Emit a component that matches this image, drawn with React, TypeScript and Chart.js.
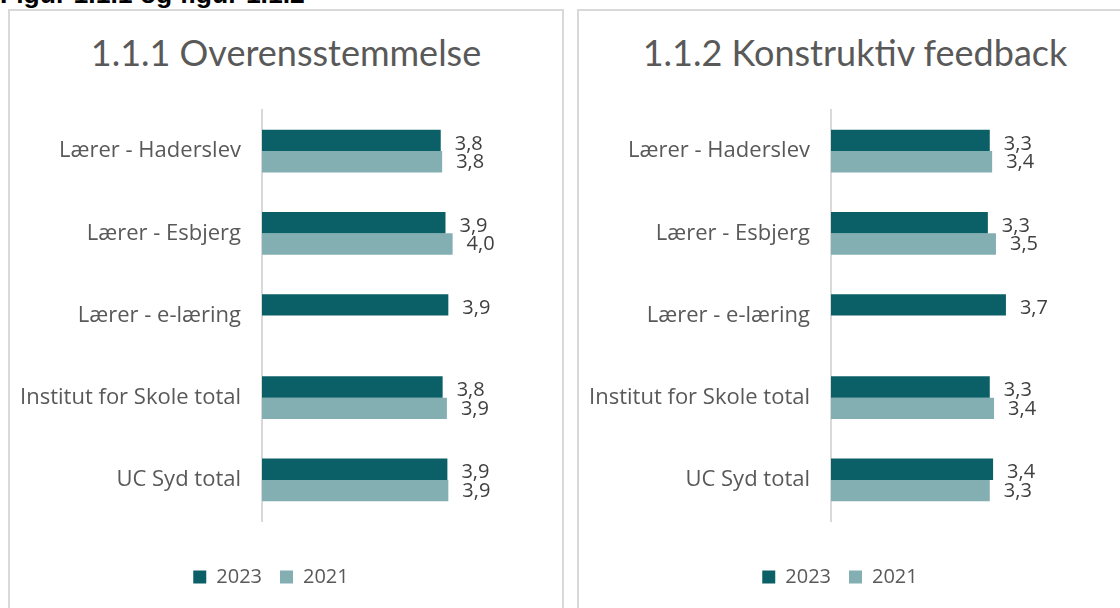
import React, { useEffect, useRef } from "react";
import { Chart, registerables } from "chart.js";
Chart.register(...registerables);

const headerText = "Figur 1.1.1 og figur 1.1.2";
const categories = [
  "Lærer - Haderslev",
  "Lærer - Esbjerg",
  "Lærer - e-læring",
  "Institut for Skole total",
  "UC Syd total",
];
const seriesNames = ["2023", "2021"];
const title1 = "1.1.1 Overensstemmelse";
const title2 = "1.1.2 Konstruktiv feedback";
const overens2023 = [3.76, 3.86, 3.92, 3.8, 3.9];
const overens2021 = [3.79, 4.01, null, 3.89, 3.92];
const feedback2023 = [3.34, 3.3, 3.68, 3.34, 3.41];
const feedback2021 = [3.39, 3.47, null, 3.43, 3.34];

const DARK = "#0B5F66";
const LIGHT = "#84AFB2";
const FONT = "'Open Sans'";
const TITLE_FONT = "Lato";

const labelOffsets = [3.5, 0.5];

const valueLabels = {
  id: "valueLabels",
  afterDatasetsDraw(chart: any) {
    const ctx = chart.ctx;
    ctx.save();
    ctx.font = `20px ${FONT}`;
    ctx.fillStyle = "#404040";
    ctx.textAlign = "left";
    ctx.textBaseline = "middle";
    chart.data.datasets.forEach((ds: any, i: number) => {
      const meta = chart.getDatasetMeta(i);
      meta.data.forEach((el: any, j: number) => {
        const v = ds.data[j];
        if (v == null) return;
        ctx.fillText(
          v.toFixed(1).replace(".", ","),
          el.x + 14,
          el.y + labelOffsets[i]
        );
      });
    });
    ctx.restore();
  },
};

function Panel({
  left,
  title,
  d2023,
  d2021,
}: {
  left: number;
  title: string;
  d2023: (number | null)[];
  d2021: (number | null)[];
}) {
  const ref = useRef<HTMLCanvasElement>(null);
  useEffect(() => {
    if (!ref.current) return;
    const chart = new Chart(ref.current, {
      type: "bar",
      data: {
        labels: categories,
        datasets: [
          {
            label: seriesNames[0],
            data: d2023,
            backgroundColor: DARK,
            categoryPercentage: 0.52,
            barPercentage: 1,
          },
          {
            label: seriesNames[1],
            data: d2021,
            backgroundColor: LIGHT,
            categoryPercentage: 0.52,
            barPercentage: 1,
          },
        ],
      },
      options: {
        indexAxis: "y",
        responsive: false,
        animation: false,
        layout: { padding: { top: 99, bottom: 11, left: 0, right: 0 } },
        scales: {
          x: {
            min: 0,
            max: 5.68,
            display: true,
            grid: { display: false },
            border: { display: false },
            ticks: { display: false },
            afterFit: (s: any) => {
              s.height = 28;
            },
          },
          y: {
            grid: { display: false, drawTicks: false },
            border: { display: true, color: "#d9d9d9", width: 2 },
            ticks: {
              padding: 21,
              color: "#595959",
              font: { family: FONT, size: 22 },
            },
            afterFit: (s: any) => {
              s.width = 252;
            },
          },
        },
        plugins: {
          legend: {
            position: "bottom",
            labels: {
              boxWidth: 13,
              boxHeight: 13,
              padding: 18,
              color: "#595959",
              font: { family: FONT, size: 20 },
            },
          },
          tooltip: { enabled: false },
          title: { display: false },
        },
      },
      plugins: [valueLabels],
    } as any);
    return () => chart.destroy();
  }, []);
  return (
    <div
      style={{
        position: "absolute",
        left,
        top: 9,
        width: 556,
        height: 640,
        border: "2px solid #d9d9d9",
        boxSizing: "border-box",
        background: "#fff",
      }}
    >
      <div
        style={{
          position: "absolute",
          left: 0,
          right: 0,
          top: 19,
          textAlign: "center",
          fontFamily: TITLE_FONT,
          fontSize: 36,
          lineHeight: "44px",
          color: "#595959",
          whiteSpace: "nowrap",
        }}
      >
        {title}
      </div>
      <canvas
        ref={ref}
        width={522}
        height={597}
        style={{
          position: "absolute",
          left: 0,
          top: 0,
          width: 522,
          height: 597,
        }}
      />
    </div>
  );
}

export default function App() {
  return (
    <div
      style={{
        position: "fixed",
        left: 0,
        top: 0,
        width: 1120,
        height: 608,
        overflow: "hidden",
        background: "#fff",
      }}
    >
      <div
        style={{
          position: "absolute",
          left: 0,
          top: -19,
          fontFamily: "Liberation Sans, Arial, sans-serif",
          fontWeight: "bold",
          fontSize: 26.5,
          lineHeight: "26px",
          color: "#000",
          whiteSpace: "nowrap",
        }}
      >
        {headerText}
      </div>
      <Panel left={8} title={title1} d2023={overens2023} d2021={overens2021} />
      <Panel left={577} title={title2} d2023={feedback2023} d2021={feedback2021} />
    </div>
  );
}
